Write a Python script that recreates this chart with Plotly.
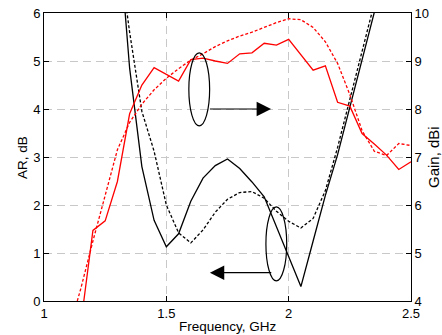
import plotly.graph_objects as go

# ---- data ----
freq_ar = [1.30, 1.35, 1.40, 1.45, 1.50, 1.55, 1.60, 1.65, 1.70, 1.75, 1.80, 1.85,
           1.90, 1.95, 2.00, 2.05, 2.10, 2.15, 2.20, 2.25, 2.30, 2.35, 2.40]
ar_solid = [8.0, 4.85, 2.8, 1.68, 1.13, 1.40, 2.08, 2.56, 2.82, 2.96, 2.76, 2.48,
            2.17, 1.55, 0.92, 0.30, 1.25, 2.2, 3.05, 4.0, 4.95, 5.95, 7.0]
ar_dashed = [7.5, 5.6, 3.95, 3.12, 2.0, 1.42, 1.21, 1.48, 1.85, 2.12, 2.26, 2.28,
             2.14, 1.87, 1.66, 1.52, 1.72, 2.3, 3.2, 4.2, 5.2, 6.15, 7.2]

freq_gs = [1.15, 1.20, 1.25, 1.30, 1.35, 1.40, 1.45, 1.50, 1.55, 1.60, 1.65, 1.70,
           1.75, 1.80, 1.85, 1.90, 1.95, 2.00, 2.05, 2.10, 2.15, 2.20, 2.25, 2.30,
           2.35, 2.40, 2.45, 2.50]
gain_solid = [3.5, 5.47, 5.67, 6.49, 7.9, 8.5, 8.86, 8.72, 8.58, 9.03, 9.06, 9.0,
              8.95, 9.15, 9.17, 9.37, 9.33, 9.45, 9.13, 8.81, 8.9, 8.14, 8.06, 7.49,
              7.27, 7.04, 6.74, 6.9]

freq_gd = [1.136, 1.15, 1.20, 1.25, 1.30, 1.35, 1.40, 1.45, 1.50, 1.55, 1.60, 1.65,
           1.70, 1.75, 1.80, 1.85, 1.90, 1.95, 2.00, 2.05, 2.10, 2.15, 2.20, 2.25,
           2.30, 2.35, 2.40, 2.45, 2.50]
gain_dashed = [4.0, 4.25, 5.25, 6.2, 7.15, 7.72, 8.1, 8.4, 8.64, 8.84, 9.02, 9.15,
               9.3, 9.42, 9.52, 9.6, 9.7, 9.8, 9.88, 9.86, 9.7, 9.4, 8.95, 8.3,
               7.55, 7.12, 7.03, 7.28, 7.24]

x_ticks = [1, 1.5, 2, 2.5]
x_ticklabels = ["1", "1.5", "2", "2.5"]
ar_ticks = [0, 1, 2, 3, 4, 5, 6]
gain_ticks = [4, 5, 6, 7, 8, 9, 10]

FONT = "Liberation Sans, Arial, Helvetica, sans-serif"

fig = go.Figure()
fig.add_trace(go.Scatter(x=freq_gs, y=gain_solid, mode="lines", yaxis="y2",
                         line=dict(color="#ff0000", width=1.3)))
fig.add_trace(go.Scatter(x=freq_gd, y=gain_dashed, mode="lines", yaxis="y2",
                         line=dict(color="#ff0000", width=1.3, dash="3px,2px")))
fig.add_trace(go.Scatter(x=freq_ar, y=ar_solid, mode="lines", yaxis="y",
                         line=dict(color="#000000", width=1.3)))
fig.add_trace(go.Scatter(x=freq_ar, y=ar_dashed, mode="lines", yaxis="y",
                         line=dict(color="#000000", width=1.3, dash="3px,2px")))

# ellipses
fig.add_shape(type="circle", xref="x", yref="y", x0=1.592, x1=1.677, y0=3.65, y1=5.17,
              line=dict(color="black", width=1.2))
fig.add_shape(type="circle", xref="x", yref="y", x0=1.907, x1=1.992, y0=0.42, y1=1.96,
              line=dict(color="black", width=1.2))

# arrows
fig.add_annotation(x=1.928, y=4.0, ax=1.672, ay=4.0, xref="x", yref="y",
                   axref="x", ayref="y", text="", showarrow=True,
                   arrowhead=2, arrowsize=2.4, arrowwidth=1.2, arrowcolor="black")
fig.add_annotation(x=1.678, y=0.59, ax=1.935, ay=0.59, xref="x", yref="y",
                   axref="x", ayref="y", text="", showarrow=True,
                   arrowhead=2, arrowsize=2.4, arrowwidth=1.2, arrowcolor="black")

# axis titles as fixed-position annotations
fig.add_annotation(text="AR, dB", xref="paper", yref="paper", x=-0.06, y=0.5,
                   xanchor="center", yanchor="middle", textangle=-90,
                   showarrow=False, font=dict(size=13.5))
fig.add_annotation(text="Gain, dBi", xref="paper", yref="paper", x=1.060, y=0.5,
                   xanchor="center", yanchor="middle", textangle=-90,
                   showarrow=False, font=dict(size=15))
fig.add_annotation(text="Frequency, GHz", xref="paper", yref="paper", x=0.5, y=-0.089,
                   xanchor="center", yanchor="middle",
                   showarrow=False, font=dict(size=13.5))

fig.update_layout(
    width=442, height=335,
    margin=dict(l=44, r=31, t=13, b=34, autoexpand=False),
    paper_bgcolor="white", plot_bgcolor="white",
    showlegend=False,
    font=dict(family=FONT, size=13, color="black"),
    xaxis=dict(range=[1, 2.5], tickvals=x_ticks, ticktext=x_ticklabels,
               ticks="inside", ticklen=5, tickcolor="black", automargin=False,
               showline=True, linecolor="black", linewidth=1, mirror="ticks",
               showgrid=True, gridcolor="#c8c8c8", griddash="8px,5px", gridwidth=1,
               zeroline=False),
    yaxis=dict(range=[0, 6], tickvals=ar_ticks, ticks="inside", ticklen=5,
               tickcolor="black", showline=True, linecolor="black", linewidth=1,
               mirror=True, showgrid=True, gridcolor="#c8c8c8", automargin=False,
               griddash="8px,5px", gridwidth=1, zeroline=False),
    yaxis2=dict(range=[4, 10], tickvals=gain_ticks, overlaying="y", side="right",
                ticks="inside", ticklen=5, tickcolor="black", showline=True,
                linecolor="black", linewidth=1, showgrid=False, zeroline=False,
                automargin=False),
)

fig.write_html("out.html")
